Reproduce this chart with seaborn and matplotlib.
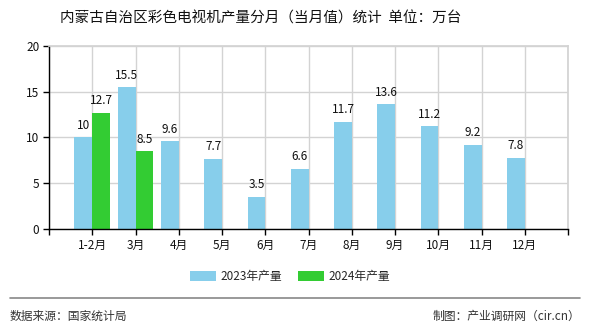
import numpy as np
import pandas as pd
import matplotlib
matplotlib.use("Agg")
import matplotlib.pyplot as plt
import seaborn as sns

months = ["1-2月", "3月", "4月", "5月", "6月", "7月", "8月", "9月", "10月", "11月", "12月"]
v2023 = [10, 15.5, 9.6, 7.7, 3.5, 6.6, 11.7, 13.6, 11.2, 9.2, 7.8]
v2024 = [12.7, 8.5, None, None, None, None, None, None, None, None, None]
series = ["2023年产量", "2024年产量"]
colors = ["#87CEEB", "#33CC33"]

sns.set_theme(style="white")
plt.rcParams['font.family'] = ['Noto Sans CJK SC', 'DejaVu Sans']

df = pd.DataFrame({
    "month": months * 2,
    "series": [series[0]] * len(months) + [series[1]] * len(months),
    "value": [np.nan if v is None else v for v in v2023 + v2024],
})

fig = plt.figure(figsize=(5.9, 3.3), dpi=100)
ax = fig.add_axes([0.083, 0.306, 0.880, 0.555])
sns.barplot(data=df, x="month", y="value", hue="series", palette=colors,
            width=0.82, saturation=1, ax=ax, legend=True, errorbar=None,
            linewidth=0, edgecolor="none")

for cont in ax.containers:
    for bar in cont:
        if bar is None:
            continue
        h = bar.get_height()
        if h is None or np.isnan(h):
            continue
        ax.annotate(f"{h:g}", (bar.get_x() + bar.get_width() / 2, h),
                    xytext=(0, 4), textcoords="offset points",
                    ha="center", va="bottom", fontsize=8.5, color="#111111")

ax.set_xlim(-1, len(months))
ax.set_ylim(0, 20)
ax.set_yticks([0, 5, 10, 15, 20])
ax.set_xticks(range(-1, len(months) + 1))
ax.set_xticklabels([""] + months + [""])
ax.set_xlabel("")
ax.set_ylabel("")
ax.grid(True, color="#d3d3d3", linewidth=1)
ax.set_axisbelow(True)
for s in ["top", "right"]:
    ax.spines[s].set_color("#d3d3d3")
for s in ["left", "bottom"]:
    ax.spines[s].set_color("black")
    ax.spines[s].set_linewidth(1)
ax.tick_params(axis="both", which="both", direction="out", length=4, width=1,
               color="black", labelsize=8.5, labelcolor="#111111", pad=3,
               bottom=True, left=True)

handles, labels = ax.get_legend_handles_labels()
ax.legend_.remove()
fig.legend(handles, labels, loc="center", bbox_to_anchor=(0.492, 0.163), ncol=2,
           frameon=False, fontsize=8.5, handlelength=2.2, handleheight=0.9,
           columnspacing=1.3, handletextpad=0.4)

fig.suptitle("内蒙古自治区彩色电视机产量分月（当月值）统计  单位：万台",
             x=0.442, y=0.965, fontsize=10.5, color="#111111")

fig.add_artist(plt.Line2D([0.017, 0.983], [0.097, 0.097], color="#888888", linewidth=1.2))
fig.text(0.017, 0.042, "数据来源：国家统计局", fontsize=8.5, color="#333333", va="center", ha="left")
fig.text(0.983, 0.042, "制图：产业调研网（cir.cn）", fontsize=8.5, color="#333333", va="center", ha="right")

fig.savefig("out.png", dpi=100)
